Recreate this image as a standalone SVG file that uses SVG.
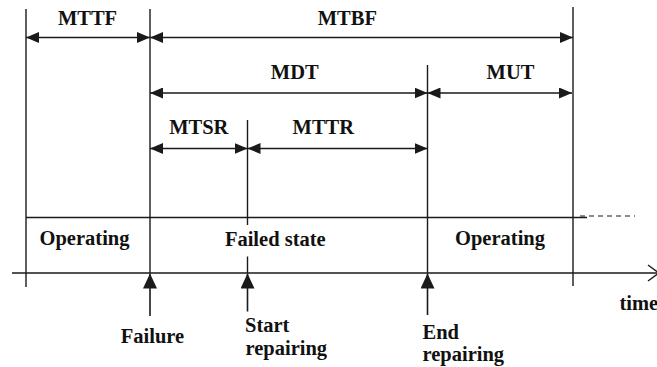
<svg xmlns="http://www.w3.org/2000/svg" width="657" height="367" viewBox="0 0 657 367">
  <defs>
    <marker id="ah" markerUnits="userSpaceOnUse" markerWidth="13" markerHeight="11" refX="13" refY="5.5" orient="auto-start-reverse">
      <path d="M0,0 L13,5.5 L0,11 Z" fill="#1a1a1a"/>
    </marker>
    <marker id="up" markerUnits="userSpaceOnUse" markerWidth="15" markerHeight="14" refX="15" refY="7" orient="auto">
      <path d="M0,0 L15,7 L0,14 Z" fill="#1a1a1a"/>
    </marker>
  </defs>
  <style>
    .ln { stroke: #1a1a1a; stroke-width: 1.4; fill: none; }
    .dim { stroke: #1a1a1a; stroke-width: 1.4; fill: none; marker-start: url(#ah); marker-end: url(#ah); }
    .ev { stroke: #1a1a1a; stroke-width: 1.6; fill: none; marker-end: url(#up); }
    .m { text-anchor: middle; }
  </style>

  <g id="axes" class="ln">
    <line x1="26" y1="9" x2="26" y2="287"/>
    <line x1="150" y1="9" x2="150" y2="273"/>
    <line x1="247.5" y1="120" x2="247.5" y2="225"/>
    <line x1="247.5" y1="256.5" x2="247.5" y2="273"/>
    <line x1="427.5" y1="65" x2="427.5" y2="273"/>
    <line x1="573" y1="7" x2="573" y2="286"/>
    <line x1="26" y1="217.5" x2="587" y2="217.5"/>
    <line x1="580" y1="216" x2="635" y2="216" stroke-dasharray="5,4" stroke-width="1.1"/>
    <line x1="12" y1="273" x2="659" y2="273"/>
    <polyline points="648,265 659,273 648,281"/>
  </g>

  <g id="connectors">
    <line class="dim" x1="26" y1="37.5" x2="150" y2="37.5"/>
    <line class="dim" x1="150" y1="37.5" x2="573" y2="37.5"/>
    <line class="dim" x1="150" y1="93" x2="427.5" y2="93"/>
    <line class="dim" x1="427.5" y1="93" x2="572" y2="93"/>
    <line class="dim" x1="150" y1="148.5" x2="247.5" y2="148.5"/>
    <line class="dim" x1="247.5" y1="148.5" x2="427.5" y2="148.5"/>
    <line class="ev" x1="150" y1="316" x2="150" y2="273.5"/>
    <line class="ev" x1="247.5" y1="311.5" x2="247.5" y2="273.5"/>
    <line class="ev" x1="427.5" y1="315" x2="427.5" y2="273.5"/>
  </g>

  <g font-family="'Liberation Serif', 'Times New Roman', Times, 'DejaVu Serif', serif" font-weight="bold" font-size="20.5" fill="#111">
    <g id="mttf"><text class="m" x="87.5" y="24.5">MTTF</text></g>
    <g id="mtbf"><text class="m" x="347.3" y="24.5">MTBF</text></g>
    <g id="mdt"><text class="m" x="294.7" y="78.5">MDT</text></g>
    <g id="mut"><text class="m" x="510.5" y="78.5">MUT</text></g>
    <g id="mtsr"><text class="m" x="198.8" y="134">MTSR</text></g>
    <g id="mttr"><text class="m" x="323.3" y="134">MTTR</text></g>

    <g id="operating1"><text class="m" x="84.5" y="245">Operating</text></g>
    <g id="failed-state"><text class="m" x="275.3" y="246">Failed state</text></g>
    <g id="operating2"><text class="m" x="500" y="245">Operating</text></g>

    <g id="failure"><text class="m" x="152.5" y="342.5">Failure</text></g>
    <g id="start-repairing">
      <text x="245" y="331.5">Start</text>
      <text x="245.5" y="354.5">repairing</text>
    </g>
    <g id="end-repairing">
      <text x="422.5" y="339">End</text>
      <text x="422.5" y="361">repairing</text>
    </g>
    <g id="time"><text x="619.5" y="310">time</text></g>
  </g>
</svg>
